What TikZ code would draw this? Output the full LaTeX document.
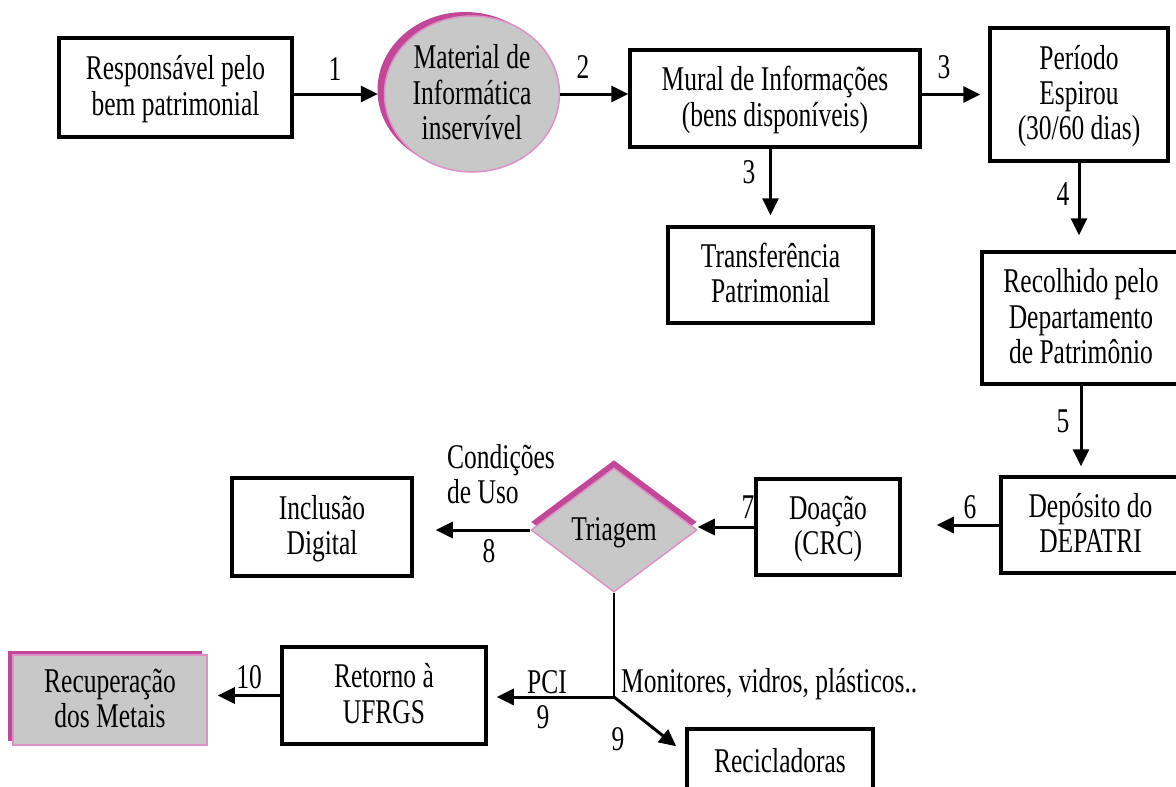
\documentclass[tikz,border=0pt]{standalone}
\usepackage{fontspec}
\setmainfont{Liberation Serif}
\usepackage{graphicx}
\usetikzlibrary{arrows.meta,shapes.geometric,shadows,calc}

\definecolor{shapegray}{RGB}{200,200,200}
\definecolor{rimmagenta}{RGB}{192,72,150}
\definecolor{rimpink}{RGB}{222,145,198}

% tall serif text block (centred / left aligned), set slightly low in its box
\newcommand{\vt}[1]{\raisebox{-3pt}[\height][\depth]{\scalebox{1}[1.36]{\fontsize{25.5}{26}\selectfont\begin{tabular}{@{}c@{}}#1\end{tabular}}}}
\newcommand{\vl}[1]{\raisebox{-3pt}[\height][\depth]{\scalebox{1}[1.36]{\fontsize{25.5}{26}\selectfont\begin{tabular}{@{}l@{}}#1\end{tabular}}}}

\begin{document}
\begin{tikzpicture}[x=1pt,y=-1pt,
  box/.style={draw, rectangle, line width=3.5pt, inner sep=0pt},
  solid3d/.style={fill=shapegray, draw=rimpink, line width=1.5pt, inner sep=0pt},
  arr/.style={line width=3pt, -{Triangle[length=17pt,width=16pt]}},
  lab/.style={inner sep=0pt}]

\useasboundingbox (0,0) rectangle (1176,787);
\fill[white] (0,0) rectangle (1176,787);
\clip (0,0) rectangle (1176,787);

% top row
\node[box, minimum width=233pt, minimum height=99pt] (resp) at (175.5,87.5)
  {\vt{Responsável pelo\\bem patrimonial}};
\node[solid3d, ellipse, minimum width=175pt, minimum height=156pt,
  general shadow={fill=rimmagenta, shadow xshift=-7pt, shadow yshift=4pt}] (circ) at (472,94)
  {\vt{Material de\\Informática\\inservível}};
\node[box, minimum width=290pt, minimum height=97pt] (mural) at (775,98.5)
  {\vt{Mural de Informações\\(bens disponíveis)}};
\node[box, minimum width=178pt, minimum height=133pt] (periodo) at (1079,94.5)
  {\vt{Período\\Espirou\\(30/60 dias)}};

% second column / right side
\node[box, minimum width=205pt, minimum height=96pt] (transf) at (770.5,275)
  {\vt{Transferência\\Patrimonial}};
\node[box, minimum width=198pt, minimum height=132pt] (recol) at (1081,318)
  {\vt{Recolhido pelo\\Departamento\\de Patrimônio}};
\node[box, minimum width=179pt, minimum height=96pt] (depos) at (1090.5,525)
  {\vt{Depósito do\\DEPATRI}};

% middle row
\node[box, minimum width=144pt, minimum height=96pt] (doacao) at (828,527)
  {\vt{Doação\\(CRC)}};
\node[solid3d, diamond, minimum width=166pt, minimum height=124pt,
  general shadow={fill=rimmagenta, shadow xshift=0pt, shadow yshift=8pt}] (triag) at (614,530)
  {\vt{Triagem}};
\node[box, minimum width=180pt, minimum height=98pt] (incl) at (322,527)
  {\vt{Inclusão\\Digital}};

% bottom row
\node[box, minimum width=204pt, minimum height=97pt] (retorno) at (384,695.5)
  {\vt{Retorno à\\UFRGS}};
\node[solid3d, rectangle, minimum width=194pt, minimum height=90pt,
  general shadow={fill=rimmagenta, shadow xshift=-5pt, shadow yshift=4pt}] (recup) at (110,700)
  {\vt{Recuperação\\dos Metais}};
\node[box, minimum width=186pt, minimum height=66pt] (recicl) at (780,762)
  {\vt{Recicladoras}};

\coordinate (junc) at (614,697);

% connectors
\draw[arr, shorten >=6pt] (resp.east |- circ.west) -- (circ.west);
\draw[arr] (circ.east) -- (circ.east -| mural.west);
\draw[arr, shorten >=8pt] (mural.east |- periodo.west) -- (periodo.west);
\draw[arr, shorten >=10pt] (transf.north |- mural.south) -- (transf.north);
\draw[arr, shorten >=15pt] (periodo.south) -- (periodo.south |- recol.north);
\draw[arr, shorten >=9pt] (recol.south) -- (recol.south |- depos.north);
\draw[arr, shorten >=35pt] (depos.west) -- (depos.west -| doacao.east);
\draw[arr] (doacao.west) -- (doacao.west -| triag.east);
\draw[arr, shorten >=22pt] (triag.west) -- (triag.west -| incl.east);
\draw[line width=1.8pt] (triag.south) -- (junc);
\draw[arr, shorten >=9pt] (junc) -- (junc -| retorno.east);
\draw[arr, shorten >=10pt] (retorno.west) -- (retorno.west -| recup.east);
\draw[arr] (junc) -- ($(recicl.north west)+(-9,19)$);

% connector labels
\node[lab] (l1) at (335,70) {\vt{1}};
\node[lab] (l2) at (583,68) {\vt{2}};
\node[lab] (l3a) at (944,68) {\vt{3}};
\node[lab] (l3b) at (749,173) {\vt{3}};
\node[lab] (l4) at (1063,195) {\vt{4}};
\node[lab] (l5) at (1063,422) {\vt{5}};
\node[lab] (l6) at (970,508) {\vt{6}};
\node[lab] (l7) at (748,508) {\vt{7}};
\node[lab] (l8) at (489,552) {\vt{8}};
\node[lab, anchor=west] (cond) at (447,476) {\vl{Condições\\de Uso}};
\node[lab] (pci) at (547,683) {\vt{PCI}};
\node[lab] (l9a) at (543,718) {\vt{9}};
\node[lab] (l9b) at (618,740) {\vt{9}};
\node[lab] (l10) at (249,678) {\vt{10}};
\node[lab, anchor=west] (mon) at (621,682) {\vt{Monitores, vidros, plásticos..}};
\end{tikzpicture}
\end{document}
